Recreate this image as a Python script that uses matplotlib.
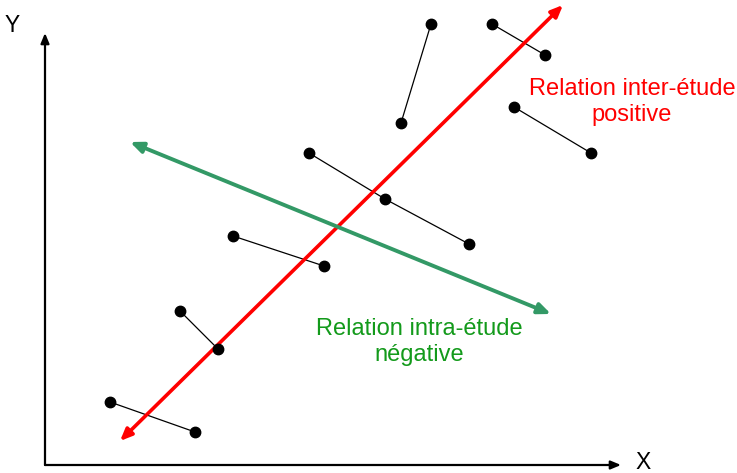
import matplotlib.pyplot as plt

plt.rcParams["font.family"] = ["Liberation Sans", "DejaVu Sans"]

# Pairs of study points (pixel-like coordinates, y downward)
segments = [
    [(110, 402), (195, 432)],
    [(180, 311), (218, 349)],
    [(233, 236), (324, 266)],
    [(309, 153), (385, 199), (469, 244)],
    [(401, 123), (431, 24)],
    [(492, 24), (545, 55)],
    [(514, 107), (591, 153)],
]

# Inter-study (red) and intra-study (green) trend arrows
red_start, red_end = (120, 441), (563, 5)
green_start, green_end = (130, 142), (551, 314)

# Axes arrows
origin = (45, 465)
x_tip = (621, 465)
y_tip = (45, 33)

fig = plt.figure(figsize=(7.37, 4.73), dpi=100)
ax = fig.add_axes([0, 0, 1, 1])
ax.set_xlim(0, 737)
ax.set_ylim(473, 0)
ax.axis("off")

# Axes
for tip in (x_tip, y_tip):
    ax.annotate(
        "", xy=tip, xytext=origin,
        arrowprops=dict(arrowstyle="-|>,head_length=0.6,head_width=0.25",
                        color="black", lw=1.6, shrinkA=0, shrinkB=0),
    )
ax.text(12, 25, "Y", fontsize=16.5, ha="center", va="center")
ax.text(643, 462, "X", fontsize=16.5, ha="center", va="center")

# Study segments
for seg in segments:
    xs = [p[0] for p in seg]
    ys = [p[1] for p in seg]
    ax.plot(xs, ys, color="black", lw=0.9, zorder=2)
    ax.plot(xs, ys, "o", color="black", markersize=7.5, zorder=4)

# Trend arrows
ax.annotate(
    "", xy=red_end, xytext=red_start,
    arrowprops=dict(arrowstyle="<|-|>,head_length=0.7,head_width=0.3",
                    color="#FF0000", lw=2.6, shrinkA=0, shrinkB=0),
    zorder=3,
)
ax.annotate(
    "", xy=green_end, xytext=green_start,
    arrowprops=dict(arrowstyle="<|-|>,head_length=0.75,head_width=0.32",
                    color="#339966", lw=2.8, shrinkA=0, shrinkB=0),
    zorder=3,
)

ax.text(632, 102, "Relation inter-étude\npositive", color="#FF0000",
        fontsize=17, ha="center", va="center", linespacing=1.25)
ax.text(419, 342, "Relation intra-étude\nnégative", color="#139A1B",
        fontsize=17, ha="center", va="center", linespacing=1.25)

fig.savefig("out.png", dpi=100)
